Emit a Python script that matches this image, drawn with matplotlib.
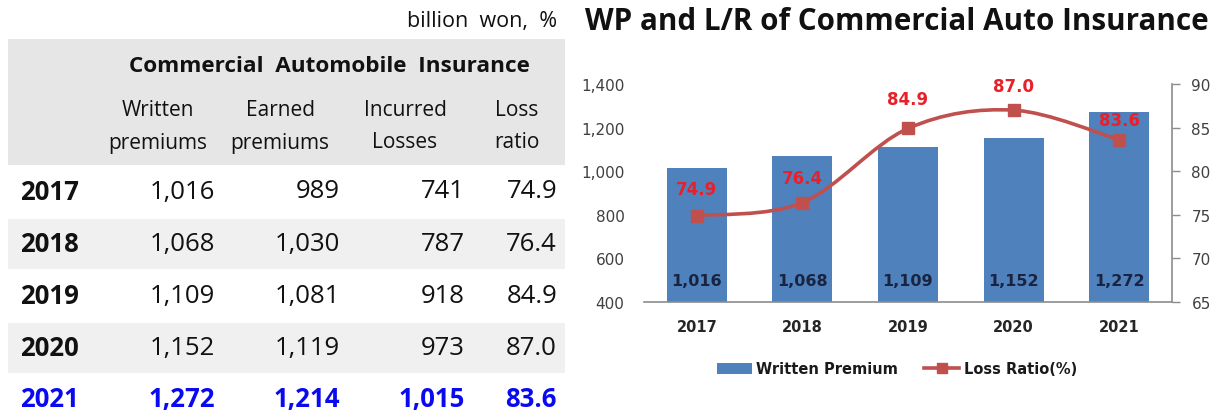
import matplotlib
matplotlib.use("Agg")
import matplotlib.pyplot as plt
from matplotlib.patches import Rectangle, PathPatch, Patch
from matplotlib.path import Path
from matplotlib.lines import Line2D

# ---------------- data ----------------
years = ["2017", "2018", "2019", "2020", "2021"]
written_premiums = [1016, 1068, 1109, 1152, 1272]
earned_premiums = [989, 1030, 1081, 1119, 1214]
incurred_losses = [741, 787, 918, 973, 1015]
loss_ratio = [74.9, 76.4, 84.9, 87.0, 83.6]

table_title = "Commercial  Automobile  Insurance"
col_headers = [("Written", "premiums"), ("Earned", "premiums"),
               ("Incurred", "Losses"), ("Loss", "ratio")]
unit_label = "billion  won,  %"
chart_title = "WP and L/R of Commercial Auto Insurance"
left_ticks = [400, 600, 800, 1000, 1200, 1400]
right_ticks = [65, 70, 75, 80, 85, 90]
legend_labels = ["Written Premium", "Loss Ratio(%)"]

# ---------------- figure ----------------
W, H = 1221, 414
fig = plt.figure(figsize=(W / 100, H / 100), dpi=100)


def fx(px):
    return px / W


def fy(py):
    return 1 - py / H


TFONT = "Open Sans"
BAR_BLUE = "#4f81bd"
LINE_RED = "#c0504d"
LABEL_RED = "#e8202a"

# --- table ---
fig.patches.append(Rectangle((fx(8), fy(166)), fx(565) - fx(8), fy(40) - fy(166),
                             transform=fig.transFigure, facecolor="#e6e6e6",
                             edgecolor="none", zorder=0))
row_y = [192, 245, 297, 349, 400]
for i, yy in enumerate(row_y):
    if i in (1, 3):
        fig.patches.append(Rectangle((fx(8), fy(yy + 25)), fx(565) - fx(8),
                                     fy(yy - 25) - fy(yy + 25),
                                     transform=fig.transFigure,
                                     facecolor="#f0f0f0", edgecolor="none",
                                     zorder=0))

fig.text(fx(557), fy(22), unit_label, ha="right", va="center",
         family=TFONT, fontsize=15.5, color="#111111")
fig.text(fx(329), fy(67), table_title, ha="center", va="center",
         family=TFONT, fontsize=16.2, fontweight="bold", color="#111111")
col_centers = [158, 280, 405, 517]
for cx, (l1, l2) in zip(col_centers, col_headers):
    fig.text(fx(cx), fy(110), l1, ha="center", va="center", family=TFONT,
             fontsize=15, color="#111111")
    fig.text(fx(cx), fy(143), l2, ha="center", va="center", family=TFONT,
             fontsize=15, color="#111111")

col_right = [215, 340, 465, 557]
for i, yy in enumerate(row_y):
    last = i == len(years) - 1
    color = "#0a0af0" if last else "#111111"
    w = "bold" if last else "normal"
    fig.text(fx(20), fy(yy), years[i], ha="left", va="center", family=TFONT,
             fontsize=18.5, fontweight="bold", color=color)
    vals = [f"{written_premiums[i]:,}", f"{earned_premiums[i]:,}",
            f"{incurred_losses[i]:,}", f"{loss_ratio[i]:.1f}"]
    for cr, v in zip(col_right, vals):
        fig.text(fx(cr), fy(yy), v, ha="right", va="center", family=TFONT,
                 fontsize=18.5, fontweight=w, color=color)

# --- chart ---
fig.text(fx(585), fy(22), chart_title, ha="left", va="center", family=TFONT,
         fontsize=21.3, fontweight="bold", color="#111111")

ax = fig.add_axes([fx(644), fy(303), fx(1172) - fx(644), fy(85) - fy(303)])
x = list(range(len(years)))
ax.bar(x, written_premiums, width=0.57, color=BAR_BLUE, zorder=2)
ax.set_xlim(-0.5, len(years) - 0.5)
ax.set_ylim(left_ticks[0], left_ticks[-1])
ax.set_yticks(left_ticks)
ax.set_yticklabels([f"{t:,}" for t in left_ticks])
ax.set_xticks(x)
ax.set_xticklabels(years, fontweight="bold")
ax.tick_params(axis="y", length=0, pad=14, labelsize=11, labelcolor="#404040")
ax.tick_params(axis="x", length=0, pad=12, labelsize=10.5, labelcolor="#262626")
for s in ("left", "top", "right"):
    ax.spines[s].set_visible(False)
ax.spines["bottom"].set_color("#8c8c8c")
ax.spines["bottom"].set_linewidth(1.2)

for xi, v in zip(x, written_premiums):
    ax.annotate(f"{v:,}", (xi, left_ticks[0]), xytext=(0, 21),
                textcoords="offset pixels", ha="center", va="center",
                fontsize=11.5, fontweight="bold", color="#1a2440", zorder=5)

ax2 = ax.twinx()
ax2.set_ylim(right_ticks[0], right_ticks[-1])
ax2.set_yticks(right_ticks)
ax2.tick_params(axis="y", length=6, width=1, color="#8c8c8c", pad=8,
                labelsize=11, labelcolor="#404040")
for s in ("left", "top", "bottom"):
    ax2.spines[s].set_visible(False)
ax2.spines["right"].set_color("#8c8c8c")
ax2.spines["right"].set_linewidth(1.2)

# smoothed line (Bezier through the data points, drawn in data coords)
pts = list(zip(x, loss_ratio))
n = len(pts)
verts = [pts[0]]
codes = [Path.MOVETO]
for i in range(n - 1):
    p0 = pts[i - 1] if i > 0 else pts[i]
    p1 = pts[i]
    p2 = pts[i + 1]
    p3 = pts[i + 2] if i + 2 < n else pts[i + 1]
    c1 = (p1[0] + (p2[0] - p0[0]) / 6, p1[1] + (p2[1] - p0[1]) / 6)
    c2 = (p2[0] - (p3[0] - p1[0]) / 6, p2[1] - (p3[1] - p1[1]) / 6)
    verts += [c1, c2, p2]
    codes += [Path.CURVE4] * 3
ax2.add_patch(PathPatch(Path(verts, codes), fill=False, edgecolor=LINE_RED,
                        lw=2.6, transform=ax2.transData, zorder=3))
ax2.plot(x, loss_ratio, linestyle="none", marker="s", ms=8,
         color=LINE_RED, zorder=4)
label_offsets = [27, 25, 29, 24, 20]
for xi, v, off in zip(x, loss_ratio, label_offsets):
    ax2.annotate(f"{v:.1f}", (xi, v), xytext=(0, off), textcoords="offset pixels",
                 ha="center", va="center", fontsize=12, fontweight="bold",
                 color=LABEL_RED, zorder=6)

handles = [Patch(facecolor=BAR_BLUE, edgecolor="none"),
           Line2D([0], [0], color=LINE_RED, lw=2.6, marker="s", ms=7)]
leg = fig.legend(handles, legend_labels, loc="center",
                 bbox_to_anchor=(fx(897), fy(370)), ncol=2, frameon=False,
                 prop={"weight": "bold", "size": 10.5}, handlelength=2.4,
                 handleheight=0.8, handletextpad=0.3, columnspacing=1.8)
for t in leg.get_texts():
    t.set_color("#1a1a1a")

fig.savefig("out.png", dpi=100)
